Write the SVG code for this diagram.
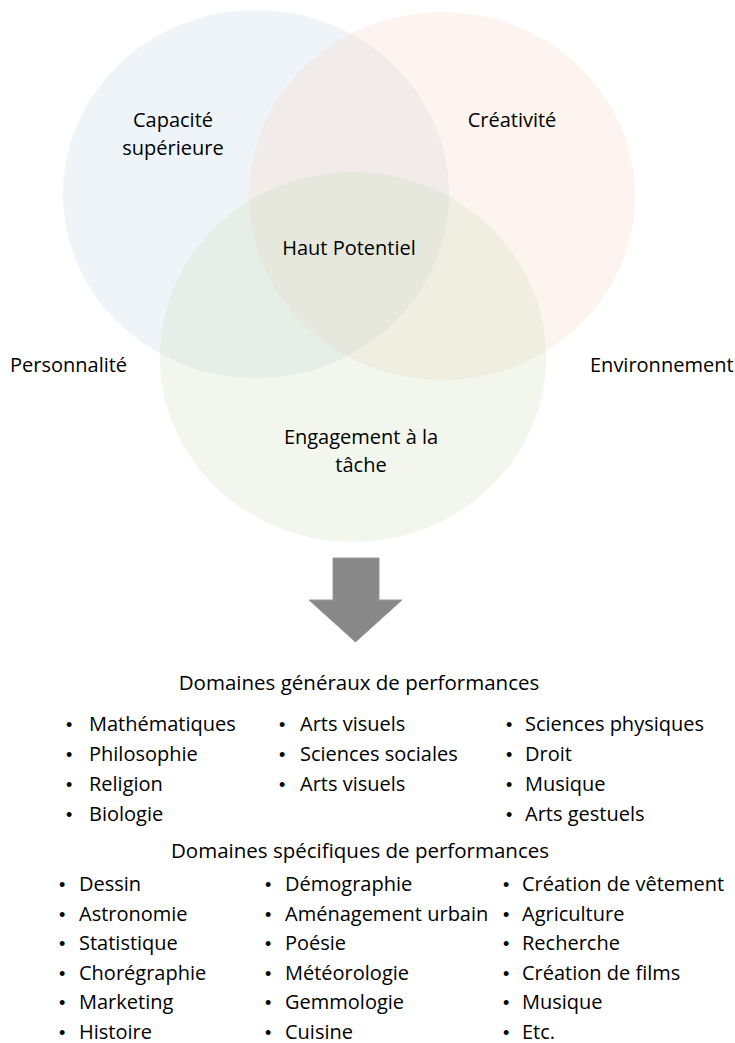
<svg xmlns="http://www.w3.org/2000/svg" width="735" height="1043" viewBox="0 0 735 1043">
<style>
text{font-family:"Open Sans","Noto Sans","Liberation Sans",sans-serif;fill:#000}
.lbl{font-size:20px;font-weight:500}
.h{font-size:20.5px;text-anchor:middle;font-weight:500}
.it{font-size:20px;font-weight:400}
.b{font-family:"Liberation Sans",sans-serif;font-size:18px}
.c{text-anchor:middle}
.blue{fill:#BFD3E7;fill-opacity:0.25}
.orange{fill:#F7D3BF;fill-opacity:0.25}
.green{fill:#CBDBB7;fill-opacity:0.25}
</style>
<rect width="735" height="1043" fill="#fff"/>
<g id="venn">
<g id="capacite"><ellipse class="blue" cx="256" cy="194" rx="193" ry="184"/></g>
<g id="creativite"><ellipse class="orange" cx="442" cy="196" rx="193" ry="184"/></g>
<g id="engagement"><ellipse class="green" cx="353" cy="357" rx="193" ry="185"/></g>
</g>
<g id="labels">
<text class="lbl c" x="173" y="127">Capacité</text>
<text class="lbl c" x="173" y="155">supérieure</text>
<text class="lbl c" x="512" y="127">Créativité</text>
<text class="lbl c" x="349" y="255">Haut Potentiel</text>
<text class="lbl" x="10" y="372">Personnalité</text>
<text class="lbl" x="590" y="372">Environnement</text>
<text class="lbl c" x="361" y="444">Engagement à la</text>
<text class="lbl c" x="361" y="472">tâche</text>
</g>
<g id="connectors">
<path d="M333 558 H379 V600 H402 L355.5 642 L309 600 H333 Z" fill="#888" stroke="#9a9a9a" stroke-width="1"/>
</g>
<g id="general">
<text class="h" x="359" y="690">Domaines généraux de performances</text>
<g class="it">
<text x="66" y="731"><tspan class="b">•</tspan><tspan x="89">Mathématiques</tspan></text>
<text x="66" y="761"><tspan class="b">•</tspan><tspan x="89">Philosophie</tspan></text>
<text x="66" y="791"><tspan class="b">•</tspan><tspan x="89">Religion</tspan></text>
<text x="66" y="821"><tspan class="b">•</tspan><tspan x="89">Biologie</tspan></text>
<text x="279" y="731"><tspan class="b">•</tspan><tspan x="300">Arts visuels</tspan></text>
<text x="279" y="761"><tspan class="b">•</tspan><tspan x="300">Sciences sociales</tspan></text>
<text x="279" y="791"><tspan class="b">•</tspan><tspan x="300">Arts visuels</tspan></text>
<text x="506" y="731"><tspan class="b">•</tspan><tspan x="525">Sciences physiques</tspan></text>
<text x="506" y="761"><tspan class="b">•</tspan><tspan x="525">Droit</tspan></text>
<text x="506" y="791"><tspan class="b">•</tspan><tspan x="525">Musique</tspan></text>
<text x="506" y="821"><tspan class="b">•</tspan><tspan x="525">Arts gestuels</tspan></text>
</g>
</g>
<g id="specific">
<text class="h" x="360" y="858">Domaines spécifiques de performances</text>
<g class="it">
<text x="59" y="891"><tspan class="b">•</tspan><tspan x="79">Dessin</tspan></text>
<text x="59" y="920.5"><tspan class="b">•</tspan><tspan x="79">Astronomie</tspan></text>
<text x="59" y="950"><tspan class="b">•</tspan><tspan x="79">Statistique</tspan></text>
<text x="59" y="979.5"><tspan class="b">•</tspan><tspan x="79">Chorégraphie</tspan></text>
<text x="59" y="1009"><tspan class="b">•</tspan><tspan x="79">Marketing</tspan></text>
<text x="59" y="1038.5"><tspan class="b">•</tspan><tspan x="79">Histoire</tspan></text>
<text x="265" y="891"><tspan class="b">•</tspan><tspan x="285">Démographie</tspan></text>
<text x="265" y="920.5"><tspan class="b">•</tspan><tspan x="285">Aménagement urbain</tspan></text>
<text x="265" y="950"><tspan class="b">•</tspan><tspan x="285">Poésie</tspan></text>
<text x="265" y="979.5"><tspan class="b">•</tspan><tspan x="285">Météorologie</tspan></text>
<text x="265" y="1009"><tspan class="b">•</tspan><tspan x="285">Gemmologie</tspan></text>
<text x="265" y="1038.5"><tspan class="b">•</tspan><tspan x="285">Cuisine</tspan></text>
<text x="503" y="891"><tspan class="b">•</tspan><tspan x="522">Création de vêtement</tspan></text>
<text x="503" y="920.5"><tspan class="b">•</tspan><tspan x="522">Agriculture</tspan></text>
<text x="503" y="950"><tspan class="b">•</tspan><tspan x="522">Recherche</tspan></text>
<text x="503" y="979.5"><tspan class="b">•</tspan><tspan x="522">Création de films</tspan></text>
<text x="503" y="1009"><tspan class="b">•</tspan><tspan x="522">Musique</tspan></text>
<text x="503" y="1038.5"><tspan class="b">•</tspan><tspan x="522">Etc.</tspan></text>
</g>
</g>
</svg>
